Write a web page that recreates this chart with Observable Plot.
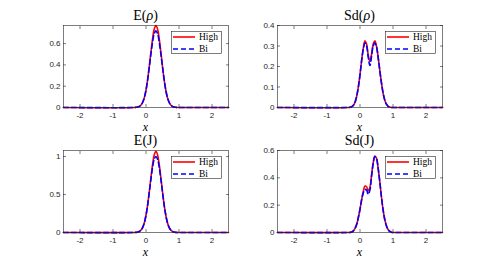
<!DOCTYPE html>
<html><head><meta charset="utf-8">
<script src="https://cdn.jsdelivr.net/npm/d3@7"></script>
<script src="https://cdn.jsdelivr.net/npm/@observablehq/plot@0.6"></script>
<style>
body{margin:0;background:#fff}
#root{position:relative;width:488px;height:264px;overflow:hidden;background:#fff}
.panel{position:absolute}
.title{position:absolute;font-family:"Liberation Serif","DejaVu Serif",serif;font-size:14px;color:#000;white-space:nowrap;transform:translateX(-50%);line-height:1}
.xlab{position:absolute;font-family:"Liberation Serif","DejaVu Serif",serif;font-style:italic;font-size:12px;color:#000;transform:translate(-50%,-50%);line-height:8px;height:8px}
</style>
</head><body>
<div id="root"></div>
<script>
// sample positions along x
const xs = [-2.5, -0.35, -0.3, -0.25, -0.2, -0.15, -0.1, -0.05, 0, 0.05, 0.1, 0.15, 0.2, 0.25, 0.3, 0.35, 0.4, 0.45, 0.5, 0.55, 0.6, 0.65, 0.7, 0.75, 0.8, 0.85, 0.9, 0.95, 1.0, 1.05, 2.5];

// E(rho)
const eRhoHigh = [0, 0, 0.002, 0.004, 0.010, 0.023, 0.049, 0.093, 0.163, 0.262, 0.386, 0.522, 0.648, 0.738, 0.77, 0.738, 0.648, 0.522, 0.386, 0.262, 0.163, 0.093, 0.049, 0.023, 0.010, 0.004, 0.002, 0, 0, 0, 0];
const eRhoBi   = [0, 0, 0.002, 0.004, 0.010, 0.023, 0.049, 0.093, 0.163, 0.262, 0.380, 0.505, 0.615, 0.695, 0.72, 0.695, 0.615, 0.505, 0.380, 0.262, 0.163, 0.093, 0.049, 0.023, 0.010, 0.004, 0.002, 0, 0, 0, 0];
// Sd(rho)
const sdRhoHigh = [0, 0, 0.001, 0.004, 0.011, 0.026, 0.055, 0.100, 0.160, 0.230, 0.290, 0.325, 0.310, 0.255, 0.225, 0.260, 0.310, 0.325, 0.300, 0.245, 0.180, 0.120, 0.070, 0.036, 0.016, 0.006, 0.002, 0, 0, 0, 0];
const sdRhoBi   = [0, 0, 0.001, 0.004, 0.011, 0.026, 0.055, 0.100, 0.160, 0.230, 0.285, 0.315, 0.300, 0.245, 0.205, 0.250, 0.300, 0.315, 0.295, 0.245, 0.180, 0.120, 0.070, 0.036, 0.016, 0.006, 0.002, 0, 0, 0, 0];
// E(J)
const eJHigh = [0, 0, 0.002, 0.006, 0.014, 0.032, 0.068, 0.129, 0.227, 0.364, 0.537, 0.725, 0.900, 1.025, 1.07, 1.025, 0.900, 0.725, 0.537, 0.364, 0.227, 0.129, 0.068, 0.032, 0.014, 0.006, 0.002, 0, 0, 0, 0];
const eJBi   = [0, 0, 0.002, 0.006, 0.014, 0.032, 0.068, 0.129, 0.227, 0.362, 0.530, 0.705, 0.860, 0.965, 1.00, 0.965, 0.860, 0.705, 0.530, 0.362, 0.227, 0.129, 0.068, 0.032, 0.014, 0.006, 0.002, 0, 0, 0, 0];
// Sd(J)
const sdJHigh = [0, 0, 0.001, 0.004, 0.012, 0.030, 0.060, 0.110, 0.170, 0.240, 0.300, 0.340, 0.335, 0.305, 0.330, 0.420, 0.510, 0.560, 0.545, 0.470, 0.370, 0.260, 0.165, 0.095, 0.050, 0.022, 0.008, 0.002, 0, 0, 0];
const sdJBi   = [0, 0, 0.001, 0.004, 0.012, 0.030, 0.060, 0.110, 0.170, 0.240, 0.290, 0.315, 0.310, 0.280, 0.310, 0.410, 0.505, 0.555, 0.540, 0.470, 0.370, 0.260, 0.165, 0.095, 0.050, 0.022, 0.008, 0.002, 0, 0, 0];

const xTicks = [-2, -1, 0, 1, 2];
const seriesNames = ["High", "Bi"];

const panels = [
  {title: 'E(<i>ρ</i>)', high: eRhoHigh, bi: eRhoBi, yMax: 0.77, yTicks: [0, 0.2, 0.4, 0.6], left: 0, top: 0, ml: 63, mr: 16, mt: 25, mb: 25},
  {title: 'Sd(<i>ρ</i>)', high: sdRhoHigh, bi: sdRhoBi, yMax: 0.4, yTicks: [0, 0.1, 0.2, 0.3, 0.4], left: 244, top: 0, ml: 33, mr: 46, mt: 25, mb: 25},
  {title: 'E(J)', high: eJHigh, bi: eJBi, yMax: 1.08, yTicks: [0, 0.5, 1], left: 0, top: 132, ml: 63, mr: 16, mt: 18, mb: 32},
  {title: 'Sd(J)', high: sdJHigh, bi: sdJBi, yMax: 0.6, yTicks: [0, 0.2, 0.4, 0.6], left: 244, top: 132, ml: 33, mr: 46, mt: 18, mb: 32}
];

const root = document.getElementById("root");
const axisColor = "#262626";
const tickFont = "Liberation Sans, Arial, sans-serif";
const fmt = d => String(d);

for (const p of panels) {
  const rows = xs.map((x, i) => ({x, high: p.high[i], bi: p.bi[i]}));
  const chart = Plot.plot({
    width: 244, height: 132,
    marginLeft: p.ml, marginRight: p.mr, marginTop: p.mt, marginBottom: p.mb,
    style: {fontFamily: tickFont, fontSize: "8px", color: axisColor, background: "transparent", overflow: "visible"},
    x: {domain: [-2.5, 2.5]},
    y: {domain: [0, p.yMax]},
    marks: [
      Plot.line(rows, {x: "x", y: "high", stroke: "#ff0000", strokeWidth: 1.6, curve: "catmull-rom"}),
      Plot.line(rows, {x: "x", y: "bi", stroke: "#0000ff", strokeWidth: 1.6, strokeDasharray: "5,3", curve: "catmull-rom"}),
      Plot.frame({stroke: axisColor, strokeWidth: 0.6}),
      Plot.axisX(xTicks, {anchor: "bottom", tickSize: 0, tickPadding: 5, tickFormat: fmt, label: null, fill: axisColor, fontSize: 8}),
      Plot.axisX(xTicks, {anchor: "bottom", tickSize: -3, text: null, label: null, stroke: axisColor, strokeWidth: 0.6}),
      Plot.axisX(xTicks, {anchor: "top", tickSize: -3, text: null, label: null, stroke: axisColor, strokeWidth: 0.6}),
      Plot.axisY(p.yTicks, {anchor: "left", tickSize: 0, tickPadding: 3, tickFormat: fmt, label: null, fill: axisColor, fontSize: 8}),
      Plot.axisY(p.yTicks, {anchor: "left", tickSize: -3, text: null, label: null, stroke: axisColor, strokeWidth: 0.6}),
      Plot.axisY(p.yTicks, {anchor: "right", tickSize: -3, text: null, label: null, stroke: axisColor, strokeWidth: 0.6})
    ]
  });
  const wrap = document.createElement("div");
  wrap.className = "panel";
  wrap.style.left = p.left + "px";
  wrap.style.top = p.top + "px";
  wrap.appendChild(chart);
  root.appendChild(wrap);

  const frameLeft = p.left + p.ml;
  const frameRight = p.left + 244 - p.mr;
  const frameTop = p.top + p.mt;
  const frameBottom = p.top + 132 - p.mb;
  const cx = (frameLeft + frameRight) / 2;

  const t = document.createElement("div");
  t.className = "title";
  t.innerHTML = p.title;
  t.style.left = cx + "px";
  t.style.top = (frameTop - 16) + "px";
  root.appendChild(t);

  const xl = document.createElement("div");
  xl.className = "xlab";
  xl.textContent = "x";
  xl.style.left = cx + "px";
  xl.style.top = (frameBottom + 20) + "px";
  root.appendChild(xl);

  // legend
  const lg = d3.create("svg").attr("width", 51).attr("height", 23)
    .style("position", "absolute")
    .style("left", (frameRight - 57) + "px")
    .style("top", (frameTop + 5.5) + "px");
  lg.append("rect").attr("x", 0.5).attr("y", 0.5).attr("width", 50).attr("height", 22)
    .attr("fill", "#fff").attr("stroke", axisColor).attr("stroke-width", 0.6);
  const styles = [{stroke: "#ff0000", dash: null}, {stroke: "#0000ff", dash: "5,3"}];
  seriesNames.forEach((name, i) => {
    const yy = 6 + i * 12;
    lg.append("line").attr("x1", 2).attr("x2", 24).attr("y1", yy).attr("y2", yy)
      .attr("stroke", styles[i].stroke).attr("stroke-width", 1.6)
      .attr("stroke-dasharray", styles[i].dash);
    lg.append("text").attr("x", 28).attr("y", yy).attr("dy", "0.35em")
      .attr("font-family", "Liberation Serif, DejaVu Serif, serif").attr("font-size", 9.5)
      .attr("fill", "#000").text(name);
  });
  root.appendChild(lg.node());
}
</script>
</body></html>
